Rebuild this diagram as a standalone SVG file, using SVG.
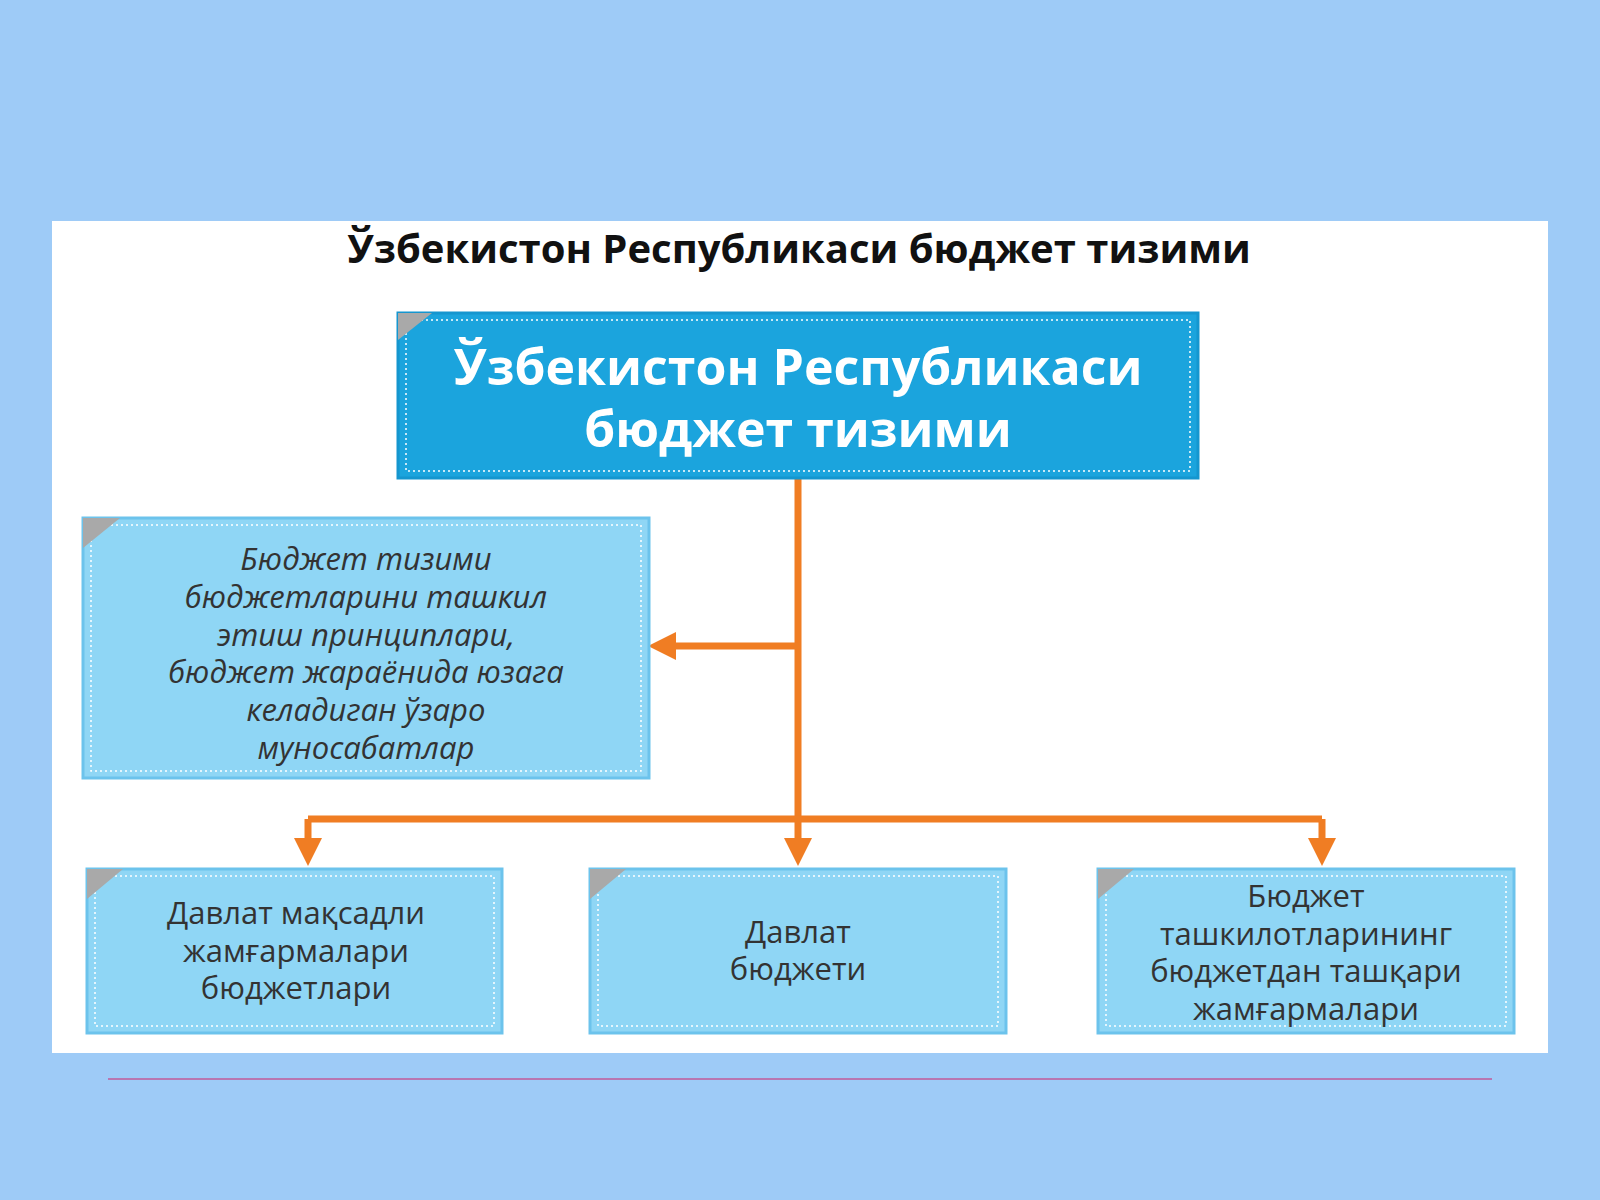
<svg xmlns="http://www.w3.org/2000/svg" width="1600" height="1200" viewBox="0 0 1600 1200">
<style>
.box{fill:#8FD6F5;stroke:#6CC3EC;stroke-width:3}
.inner{fill:none;stroke:#fff;stroke-width:1.5;stroke-dasharray:2 3}
.fold{fill:#A9A9A9}
.t{font-family:"Open Sans","Noto Sans",sans-serif;font-size:31px;fill:#333;text-anchor:middle}
.c{stroke:#F07D23;stroke-width:7;fill:none}
</style>
<defs><marker id="ar" viewBox="0 0 10 10" refX="5" refY="5" markerWidth="4" markerHeight="4" orient="auto"><path d="M0,0L10,5L0,10z" fill="#F07D23"/></marker></defs>
<rect width="1600" height="1200" fill="#9ECBF7"/>
<rect x="52" y="221" width="1496" height="832" fill="#fff"/>
<text x="799" y="263" font-family="Open Sans,sans-serif" font-weight="bold" font-size="40" fill="#111" text-anchor="middle">Ўзбекистон Республикаси бюджет тизими</text>
<g id="connectors">
<path class="c" d="M798,478V819"/>
<path class="c" d="M798,646H662" marker-end="url(#ar)"/>
<path class="c" d="M308,819H1322"/>
<path class="c" d="M308,819V852" marker-end="url(#ar)"/>
<path class="c" d="M798,819V852" marker-end="url(#ar)"/>
<path class="c" d="M1322,819V852" marker-end="url(#ar)"/>
</g>
<g id="top">
<rect x="398" y="313" width="800" height="165" fill="#1BA4DD" stroke="#1596CF" stroke-width="3"/>
<rect x="406" y="320" width="784" height="151" class="inner"/>
<path class="fold" d="M398,340L432,313H398z"/>
<text x="798" y="385" font-family="Open Sans,sans-serif" font-weight="bold" font-size="50" fill="#fff" text-anchor="middle">Ўзбекистон Республикаси</text>
<text x="798" y="447" font-family="Open Sans,sans-serif" font-weight="bold" font-size="50" fill="#fff" text-anchor="middle">бюджет тизими</text>
</g>
<g id="left">
<rect x="83" y="518" width="566" height="260" class="box"/>
<rect x="91" y="525" width="550" height="246" class="inner"/>
<path class="fold" d="M83,548L120,518H83z"/>
<g class="t" font-style="italic">
<text x="366" y="570">Бюджет тизими</text>
<text x="366" y="608">бюджетларини ташкил</text>
<text x="366" y="646">этиш принциплари,</text>
<text x="366" y="683">бюджет жараёнида юзага</text>
<text x="366" y="721">келадиган ўзаро</text>
<text x="366" y="759">муносабатлар</text>
</g>
</g>
<g id="b1">
<rect x="87" y="869" width="415" height="164" class="box"/>
<rect x="95" y="876" width="399" height="150" class="inner"/>
<path class="fold" d="M87,899L123,869H87z"/>
<text class="t" x="296" y="924">Давлат мақсадли</text>
<text class="t" x="296" y="962">жамғармалари</text>
<text class="t" x="296" y="999">бюджетлари</text>
</g>
<g id="b2">
<rect x="590" y="869" width="416" height="164" class="box"/>
<rect x="598" y="876" width="400" height="150" class="inner"/>
<path class="fold" d="M590,899L626,869H590z"/>
<text class="t" x="798" y="943">Давлат</text>
<text class="t" x="798" y="980">бюджети</text>
</g>
<g id="b3">
<rect x="1098" y="869" width="416" height="164" class="box"/>
<rect x="1106" y="876" width="400" height="150" class="inner"/>
<path class="fold" d="M1098,899L1134,869H1098z"/>
<text class="t" x="1306" y="907">Бюджет</text>
<text class="t" x="1306" y="945">ташкилотларининг</text>
<text class="t" x="1306" y="982">бюджетдан ташқари</text>
<text class="t" x="1306" y="1020">жамғармалари</text>
</g>
<line x1="108" y1="1079" x2="1492" y2="1079" stroke="#C05A9A" stroke-width="1.5"/>
</svg>
